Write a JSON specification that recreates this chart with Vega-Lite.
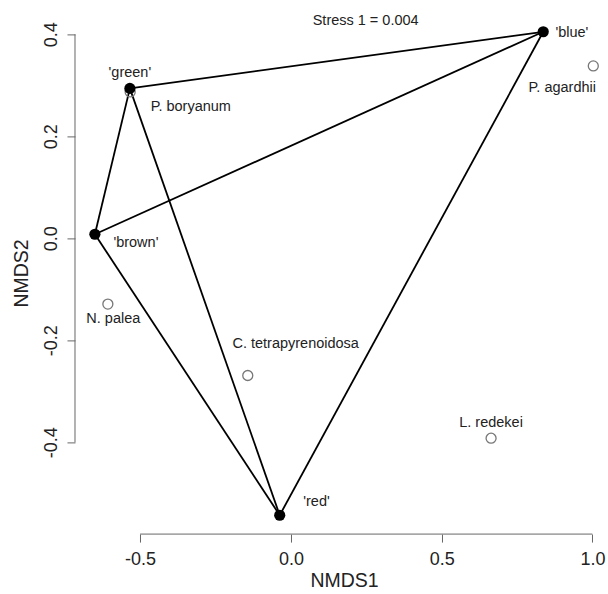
{
  "$schema": "https://vega.github.io/schema/vega-lite/v6.json",
  "width": 538.2,
  "height": 521.7,
  "autosize": {"type": "none"},
  "padding": {"left": 75, "top": 12.4, "right": 0, "bottom": 60},
  "config": {"view": {"stroke": null}, "font": "Liberation Sans"},
  "datasets": {
    "sites": [
      {"site": "'green'", "x": -0.534, "y": 0.294},
      {"site": "'brown'", "x": -0.650, "y": 0.008},
      {"site": "'blue'", "x": 0.837, "y": 0.405},
      {"site": "'red'", "x": -0.037, "y": -0.543}
    ],
    "species": [
      {"species": "P. boryanum", "x": -0.533, "y": 0.287},
      {"species": "P. agardhii", "x": 1.003, "y": 0.338},
      {"species": "N. palea", "x": -0.607, "y": -0.129},
      {"species": "C. tetrapyrenoidosa", "x": -0.143, "y": -0.269},
      {"species": "L. redekei", "x": 0.664, "y": -0.392}
    ],
    "edges": [
      {"from": "green", "to": "blue", "x": -0.534, "y": 0.294, "x2": 0.837, "y2": 0.405},
      {"from": "brown", "to": "blue", "x": -0.650, "y": 0.008, "x2": 0.837, "y2": 0.405},
      {"from": "green", "to": "brown", "x": -0.534, "y": 0.294, "x2": -0.650, "y2": 0.008},
      {"from": "green", "to": "red", "x": -0.534, "y": 0.294, "x2": -0.037, "y2": -0.543},
      {"from": "brown", "to": "red", "x": -0.650, "y": 0.008, "x2": -0.037, "y2": -0.543},
      {"from": "blue", "to": "red", "x": 0.837, "y": 0.405, "x2": -0.037, "y2": -0.543}
    ],
    "labels": [
      {"text": "'green'", "x": -0.534, "y": 0.325},
      {"text": "P. boryanum", "x": -0.332, "y": 0.257},
      {"text": "'brown'", "x": -0.514, "y": -0.009},
      {"text": "'blue'", "x": 0.932, "y": 0.402},
      {"text": "P. agardhii", "x": 0.900, "y": 0.294},
      {"text": "N. palea", "x": -0.589, "y": -0.159},
      {"text": "C. tetrapyrenoidosa", "x": 0.016, "y": -0.207},
      {"text": "L. redekei", "x": 0.664, "y": -0.3625},
      {"text": "'red'", "x": 0.085, "y": -0.518},
      {"text": "Stress 1 = 0.004", "x": 0.248, "y": 0.427}
    ],
    "axislines": [
      {"axis": "x", "x": -0.5, "x2": 1.0, "y": -0.58, "y2": -0.58},
      {"axis": "y", "x": -0.716, "x2": -0.716, "y": -0.4, "y2": 0.4}
    ]
  },
  "encoding": {
    "x": {"field": "x", "type": "quantitative",
          "scale": {"domain": [-0.716, 1.069], "nice": false, "zero": false},
          "axis": {"values": [-0.5, 0, 0.5, 1], "labelExpr": "replace(format(datum.value, '.1f'), '\u2212', '-')", "domain": false, "grid": false,
                   "tickSize": 8, "tickColor": "#666666", "labelFontSize": 18, "labelColor": "#222222",
                   "labelPadding": 8, "labelFlush": false, "labelOverlap": false,
                   "title": "NMDS1", "titleFontSize": 19.5, "titleFontWeight": "normal", "titleColor": "#222222",
                   "titleBaseline": "middle", "titleY": 46}},
    "y": {"field": "y", "type": "quantitative",
          "scale": {"domain": [-0.58, 0.443], "nice": false, "zero": false},
          "axis": {"values": [-0.4, -0.2, 0, 0.2, 0.4], "labelExpr": "replace(format(datum.value, '.1f'), '\u2212', '-')", "domain": false, "grid": false,
                   "tickSize": 8, "tickColor": "#666666", "labelFontSize": 18, "labelColor": "#222222",
                   "labelAngle": -90, "labelAlign": "center", "labelBaseline": "bottom", "labelPadding": 6, "labelFlush": false, "labelOverlap": false,
                   "title": "NMDS2", "titleFontSize": 19.5, "titleFontWeight": "normal", "titleColor": "#222222",
                   "titleAngle": -90, "titleAlign": "center", "titleBaseline": "middle", "titleX": -53, "titleY": 260.6}}
  },
  "layer": [
    {
      "data": {"name": "axislines"},
      "mark": {"type": "rule", "color": "#666666", "strokeWidth": 1},
      "encoding": {"x2": {"field": "x2"}, "y2": {"field": "y2"}}
    },
    {
      "data": {"name": "edges"},
      "mark": {"type": "rule", "color": "#000000", "strokeWidth": 1.8},
      "encoding": {"x2": {"field": "x2"}, "y2": {"field": "y2"}}
    },
    {
      "data": {"name": "species"},
      "mark": {"type": "point", "shape": "circle", "filled": false, "stroke": "#777777", "strokeWidth": 1.3, "size": 100, "opacity": 1},
      "encoding": {}
    },
    {
      "data": {"name": "sites"},
      "mark": {"type": "circle", "color": "#000000", "size": 125, "opacity": 1},
      "encoding": {}
    },
    {
      "data": {"name": "labels"},
      "mark": {"type": "text", "fontSize": 14.5, "color": "#222222", "align": "center", "baseline": "middle"},
      "encoding": {"text": {"field": "text"}}
    }
  ]
}
